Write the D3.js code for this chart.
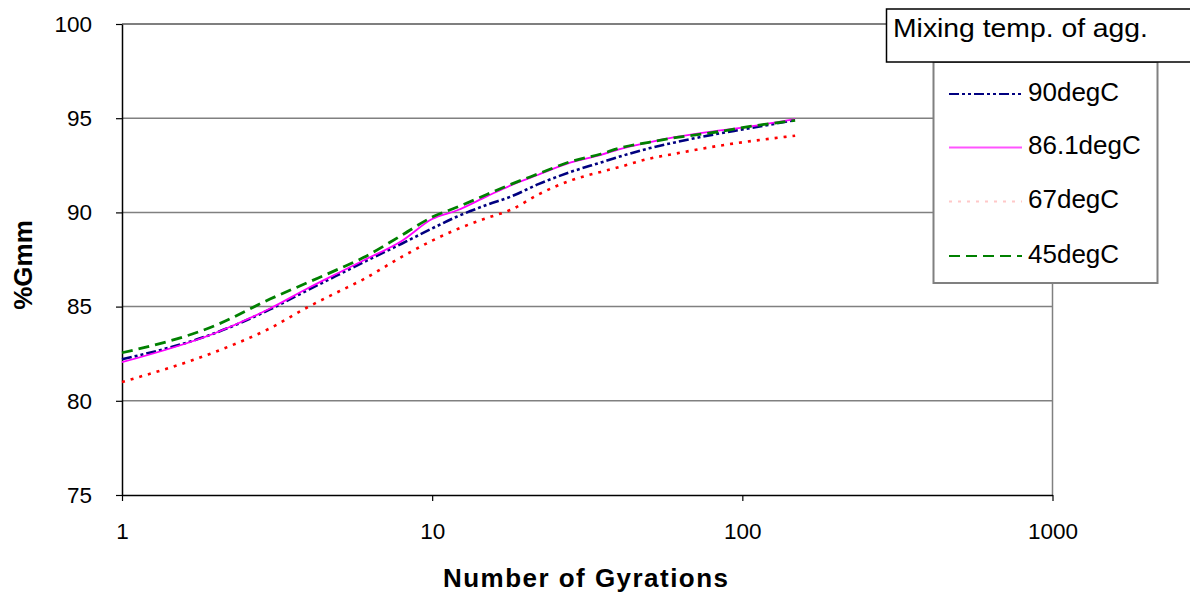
<!DOCTYPE html>
<html>
<head>
<meta charset="utf-8">
<script src="https://cdn.jsdelivr.net/npm/d3@7/dist/d3.min.js"></script>
<style>
  html, body { margin: 0; padding: 0; background: #fff; }
  svg { display: block; font-family: Arial, "Liberation Sans", sans-serif; }
</style>
</head>
<body>
<svg id="chart" width="1190" height="592"></svg>
<script>
// ---- data ----
const gyrations = [1, 2, 3, 4, 5, 6, 8, 10, 12, 15, 18, 22, 28, 35, 40, 50, 60, 85, 100, 148];
const seriesNames = ["90degC", "86.1degC", "67degC", "45degC"];
const gmm90  = [82.2, 83.6, 84.85, 85.9, 86.7, 87.35, 88.35, 89.15, 89.77, 90.4, 90.85, 91.5, 92.15, 92.65, 92.95, 93.4, 93.7, 94.2, 94.4, 94.9];
const gmm861 = [82.05, 83.6, 84.9, 86.0, 86.8, 87.45, 88.5, 89.65, 90.1, 90.85, 91.45, 92.0, 92.65, 93.05, 93.35, 93.72, 93.98, 94.35, 94.5, 94.95];
const gmm67  = [81.0, 82.6, 83.85, 85.0, 85.8, 86.45, 87.65, 88.5, 89.1, 89.7, 90.15, 90.95, 91.7, 92.15, 92.4, 92.85, 93.1, 93.55, 93.72, 94.07];
const gmm45  = [82.55, 84.0, 85.4, 86.3, 87.0, 87.6, 88.8, 89.75, 90.27, 90.95, 91.5, 92.05, 92.7, 93.1, 93.4, 93.72, 93.95, 94.3, 94.5, 94.88];
const xTicks = [1, 10, 100, 1000];
const yTicks = [75, 80, 85, 90, 95, 100];
const legendTitle = "Mixing temp. of agg.";
const xTitle = "Number of Gyrations";
const yTitle = "%Gmm";

// ---- styles ----
const styles = [
  { color: "#000080", width: 2.6, dash: "10,3,3,3,3,3", legendColor: "#000080" },
  { color: "#ff00ff", width: 1.8, dash: null, legendColor: "#ff55ff" },
  { color: "#ff0000", width: 2.6, dash: "3,6", legendColor: "#ffc8c8" },
  { color: "#008000", width: 2.8, dash: "11,6", legendColor: "#008000" }
];
const allSeries = [gmm90, gmm861, gmm67, gmm45];

const svg = d3.select("#chart");
const L = 122, R = 1052.5, T = 24, B = 495;
const x = d3.scaleLog().domain([1, 1000]).range([L, R]);
const y = d3.scaleLinear().domain([75, 100]).range([B, T]);

svg.append("rect").attr("width", 1190).attr("height", 592).attr("fill", "#fff");

// gridlines
svg.append("g").selectAll("line")
  .data(yTicks.filter(v => v > 75 && v < 100))
  .join("line")
  .attr("x1", L).attr("x2", R)
  .attr("y1", d => y(d)).attr("y2", d => y(d))
  .attr("stroke", "#808080").attr("stroke-width", 1.5);

// plot border top & right
svg.append("line").attr("x1", L).attr("x2", R).attr("y1", T).attr("y2", T)
  .attr("stroke", "#000").attr("stroke-width", 1.2);
svg.append("line").attr("x1", R).attr("x2", R).attr("y1", T).attr("y2", B)
  .attr("stroke", "#808080").attr("stroke-width", 1.5);

// axes
const yAxis = d3.axisLeft(y).tickValues(yTicks).tickSize(6).tickPadding(24).tickSizeOuter(0);
const gy = svg.append("g").attr("transform", `translate(${L},0)`).call(yAxis);
gy.select(".domain").attr("stroke", "#000").attr("stroke-width", 1.5);
gy.selectAll(".tick line").attr("stroke", "#000").attr("stroke-width", 1.2);
gy.selectAll("text").attr("font-size", 22.5).attr("fill", "#000")
  .attr("font-family", "Arial, 'Liberation Sans', sans-serif");

const xAxis = d3.axisBottom(x).tickValues(xTicks).tickFormat(d3.format("d"))
  .tickSize(6).tickPadding(22).tickSizeOuter(0);
const gx = svg.append("g").attr("transform", `translate(0,${B})`).call(xAxis);
gx.select(".domain").attr("stroke", "#000").attr("stroke-width", 1.5);
gx.selectAll(".tick line").attr("stroke", "#000").attr("stroke-width", 1.2);
gx.selectAll("text").attr("font-size", 22.5).attr("fill", "#000")
  .attr("font-family", "Arial, 'Liberation Sans', sans-serif");

// axis titles
svg.append("text").attr("x", 585.5).attr("y", 587)
  .attr("text-anchor", "middle").attr("font-weight", "bold").attr("font-size", 26)
  .attr("textLength", 285).attr("lengthAdjust", "spacing")
  .text(xTitle);
svg.append("text").attr("transform", "translate(32,265) rotate(-90)")
  .attr("text-anchor", "middle").attr("font-weight", "bold").attr("font-size", 26)
  .text(yTitle);

// lines
const line = d3.line().x(d => x(d[0])).y(d => y(d[1])).curve(d3.curveMonotoneX);
allSeries.forEach((vals, i) => {
  const pts = gyrations.map((g, j) => [g, vals[j]]);
  svg.append("path").datum(pts)
    .attr("d", line)
    .attr("fill", "none")
    .attr("stroke", styles[i].color)
    .attr("stroke-width", styles[i].width)
    .attr("stroke-dasharray", styles[i].dash)
    .attr("stroke-linejoin", "round");
});

// legend body
svg.append("rect").attr("x", 933.5).attr("y", 62).attr("width", 224).attr("height", 221)
  .attr("fill", "#fff").attr("stroke", "#808080").attr("stroke-width", 2);
// legend title box
svg.append("rect").attr("x", 886.5).attr("y", 9).attr("width", 320).attr("height", 53)
  .attr("fill", "#fff").attr("stroke", "#000").attr("stroke-width", 1.5);
svg.append("text").attr("x", 893).attr("y", 37).attr("font-size", 25)
  .attr("textLength", 255).attr("lengthAdjust", "spacingAndGlyphs")
  .text(legendTitle);

const legendY = [94, 147.5, 201.5, 256];
seriesNames.forEach((name, i) => {
  const ly = legendY[i];
  svg.append("line").attr("x1", 949).attr("x2", 1022).attr("y1", ly).attr("y2", ly)
    .attr("stroke", styles[i].legendColor).attr("stroke-width", Math.min(styles[i].width, 2.2))
    .attr("stroke-dasharray", styles[i].dash);
  svg.append("text").attr("x", 1028).attr("y", ly + 6.5).attr("font-size", 26)
    .text(name);
});
</script>
</body>
</html>
